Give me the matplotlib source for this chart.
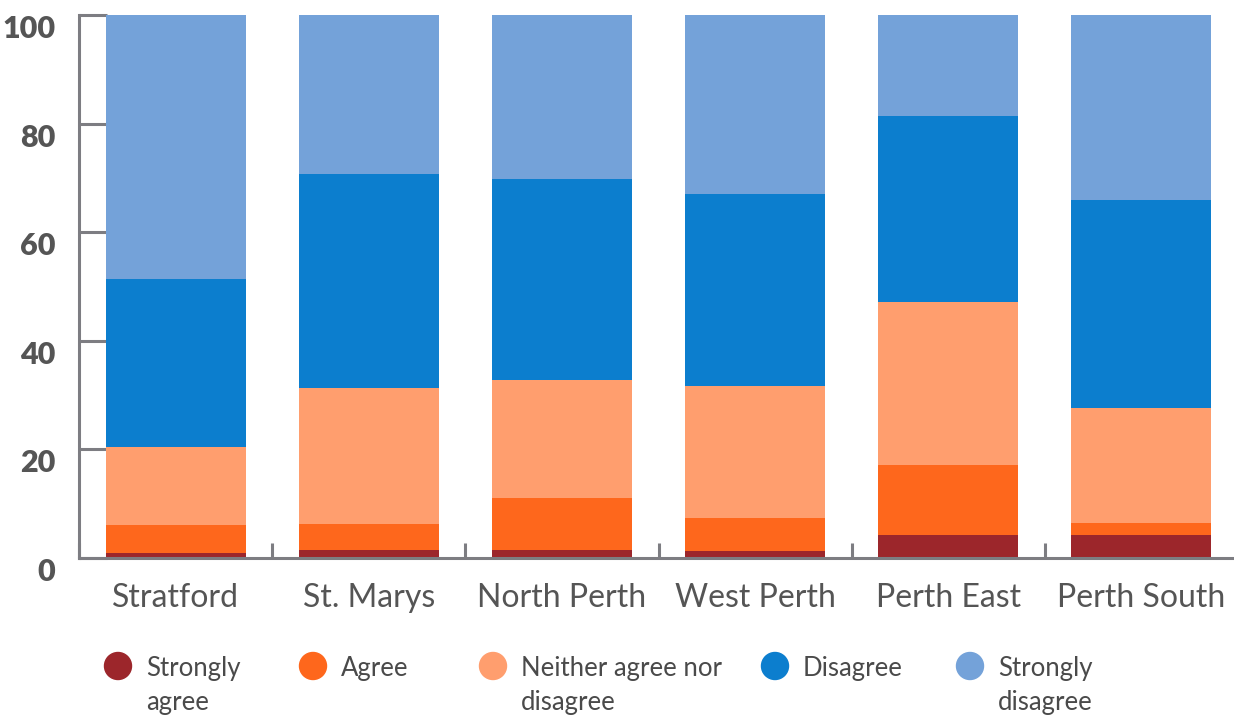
import matplotlib
matplotlib.use("Agg")
import matplotlib.pyplot as plt
import numpy as np

categories = ["Stratford", "St. Marys", "North Perth", "West Perth", "Perth East", "Perth South"]
series_names = ["Strongly\nagree", "Agree", "Neither agree nor\ndisagree", "Disagree", "Strongly\ndisagree"]
strongly_agree = [0.9, 1.5, 1.5, 1.3, 4.2, 4.2]
agree = [5.2, 4.8, 9.5, 6.1, 12.9, 2.2]
neither = [14.3, 25.0, 21.8, 24.3, 30.0, 21.2]
disagree = [31.0, 39.4, 37.0, 35.3, 34.3, 38.3]
strongly_disagree = [48.6, 29.3, 30.2, 33.0, 18.6, 34.1]
y_ticks = [0, 20, 40, 60, 80, 100]

colors = ["#9C262B", "#FE671C", "#FF9E6E", "#0C7ECE", "#74A2D9"]
series = [strongly_agree, agree, neither, disagree, strongly_disagree]

W, H = 1234, 715
fig = plt.figure(figsize=(W / 100, H / 100), dpi=100)
ax = fig.add_axes([79 / W, (H - 558) / H, (1238 - 79) / W, 543 / H])

x = np.arange(len(categories))
bottom = np.zeros(len(categories))
for vals, c in zip(series, colors):
    ax.bar(x, vals, bottom=bottom, width=0.725, color=c, linewidth=0, zorder=2)
    bottom += np.array(vals)

ax.set_xlim(-0.5, len(categories) - 0.5)
ax.set_ylim(0, 100)
grey = "#7d7d82"
for s in ["top", "right"]:
    ax.spines[s].set_visible(False)
for s in ["left", "bottom"]:
    ax.spines[s].set_color(grey)
    ax.spines[s].set_linewidth(2.2)
    ax.spines[s].set_zorder(3)

ax.set_yticks(y_ticks)
ax.set_yticklabels([str(v) for v in y_ticks], fontsize=22, fontweight="heavy",
                   color="#555555", family="Lato", va="top")
ax.tick_params(axis="y", direction="in", length=20, width=2.2, color=grey, pad=17)

ax.set_xticks(np.arange(len(categories) + 1) - 0.5)
ax.set_xticklabels([])
ax.tick_params(axis="x", direction="in", length=11, width=2.2, color=grey)
ax.set_xticks(x, minor=True)
ax.set_xticklabels(categories, minor=True, fontsize=23, color="#555555", family="Lato")
ax.tick_params(axis="x", which="minor", length=0, pad=18)

# legend
circle_x = [118, 313, 493, 775, 970]
for cx, c, name in zip(circle_x, colors, series_names):
    fig.patches.append(matplotlib.patches.Ellipse((cx / W, (H - 666) / H), 27 / W, 27 / H,
                                                  transform=fig.transFigure, color=c, figure=fig))
    fig.text((cx + 28) / W, (H - 656) / H, name, fontsize=18.5, color="#4a4a4a",
             family="Lato", va="top", ha="left", linespacing=1.45)

fig.savefig("out.png", dpi=100)
